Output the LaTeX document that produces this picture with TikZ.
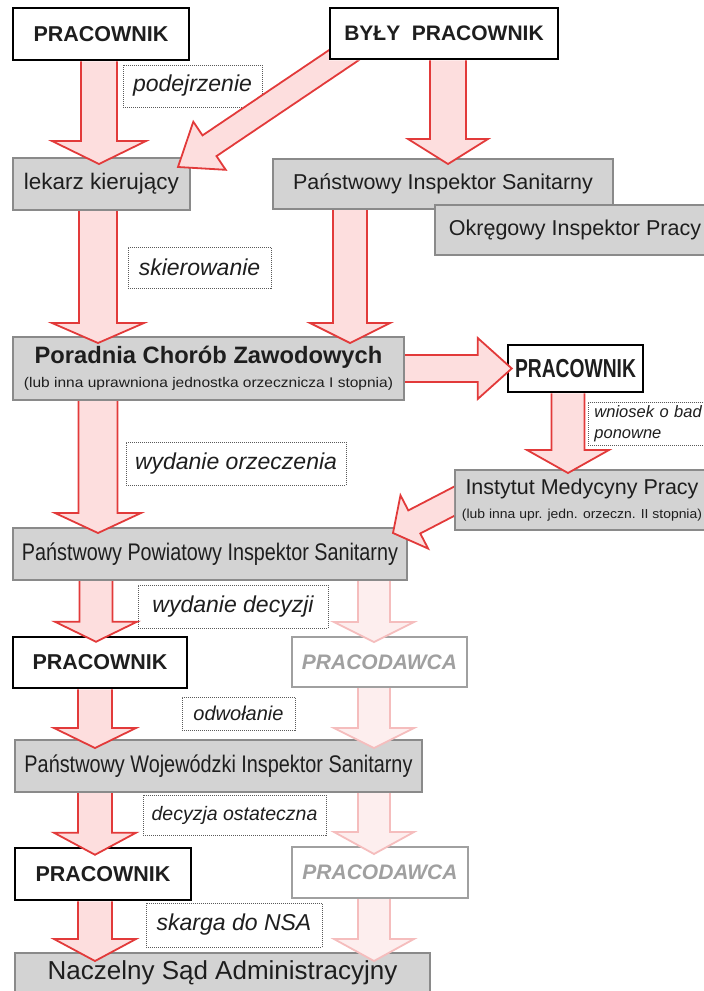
\documentclass[tikz,border=0pt]{standalone}
\usepackage{fontspec}
\setmainfont{Liberation Sans}
\usepackage{graphicx}
\usetikzlibrary{calc}
\definecolor{boxgray}{HTML}{D3D3D3}
\definecolor{boxline}{HTML}{8A8A8A}
\definecolor{arrline}{HTML}{E23A3A}
\definecolor{arrbody}{HTML}{FDDEDE}
\definecolor{ltline}{HTML}{F5BDBD}
\definecolor{ltbody}{HTML}{FDEEEE}
\definecolor{txt}{HTML}{1E1E1E}
\definecolor{pdgray}{HTML}{A0A0A0}
\definecolor{lblline}{HTML}{5A5A5A}

\newcommand\fitw[2]{\resizebox{#1}{\height}{#2}}
\newcommand\fsz[1]{\fontsize{#1}{#1}\selectfont}

\tikzset{
  whitebox/.style={draw=black, line width=2.5pt, fill=white, rectangle, inner sep=0pt, text=txt, font=\bfseries\fsz{21.5}},
  graybox/.style={draw=boxline, line width=2pt, fill=boxgray, rectangle, inner sep=0pt, text=txt, font=\fsz{21.5}},
  pdbox/.style={draw=pdgray, line width=2pt, fill=white, rectangle, inner sep=0pt, text=pdgray, font=\bfseries\itshape\fsz{21}},
  lbl/.style={draw=lblline, line width=0.9pt, dash pattern=on 1pt off 1pt, fill=white, rectangle, inner sep=0pt, text=txt, font=\itshape\fsz{23}},
  redfill/.style={fill=arrbody},
  redline/.style={draw=arrline, line width=1.8pt, line join=miter},
  ltfill/.style={fill=ltbody},
  ltline/.style={draw=ltline, line width=1.8pt, line join=miter},
  numlbl/.style={inner sep=0pt, text=txt, font=\bfseries\fsz{17}},
}

% block arrow: [kind]{start}{tip}{shaft half width}{head half width}{head length}
\newcommand\blockarrow[6][red]{%
  \coordinate (ba) at #2;
  \coordinate (bb) at #3;
  \coordinate (bh) at ($(bb)!#6!(ba)$);
  \coordinate (bs1) at ($(ba)!#4!90:(bb)$);
  \coordinate (bs2) at ($(bh)!#4!90:(bb)$);
  \coordinate (bh1) at ($(bh)!#5!90:(bb)$);
  \coordinate (bh2) at ($(bh)!#5!-90:(bb)$);
  \coordinate (bs3) at ($(bh)!#4!-90:(bb)$);
  \coordinate (bs4) at ($(ba)!#4!-90:(bb)$);
  \fill[#1fill] (bs1) -- (bs2) -- (bh1) -- (bb) -- (bh2) -- (bs3) -- (bs4) -- cycle;
  \draw[#1line] (bs1) -- (bs2) -- (bh1) -- (bb) -- (bh2) -- (bs3) -- (bs4);
}

\begin{document}
\begin{tikzpicture}[x=1pt,y=-1pt]
\useasboundingbox (0,0) rectangle (704,991);

% boxes
\node[whitebox, minimum width=176pt, minimum height=52pt] (p1) at (101,34) {PRACOWNIK};
\node[whitebox, minimum width=228pt, minimum height=51pt, font=\bfseries\fsz{21}] (byly) at (444,33.5) {BYŁY\hspace{0.55em}PRACOWNIK};
\node[graybox, minimum width=177pt, minimum height=52pt, font=\fsz{22.5}] (lek) at (101.5,184) {lekarz kierujący};
\node[graybox, minimum width=340pt, minimum height=50pt] (pis) at (443,184) {Państwowy Inspektor Sanitarny};
\node[graybox, minimum width=280pt, minimum height=50pt] (oip) at (575,230) {Okręgowy Inspektor Pracy};
\node[graybox, minimum width=391pt, minimum height=63pt, align=center] (por) at (208.5,368.5)
  {{\bfseries\fsz{23.7}Poradnia Chorób Zawodowych}\\[3pt]{\fsz{14}\fitw{369pt}{(lub inna uprawniona jednostka orzecznicza I stopnia)}}};
\node[whitebox, minimum width=135pt, minimum height=47pt, font=\bfseries\fsz{26}] (p2) at (575.5,368.5) {\fitw{121pt}{PRACOWNIK}};
\node[lbl, anchor=west, minimum height=43pt, text width=126pt, inner xsep=6pt, align=left, font=\itshape\fsz{16.5}] (wn) at (588,423.5) {wniosek o bad\\[4pt]ponowne};
\node[graybox, minimum width=254pt, minimum height=60pt, align=center] (inst) at (582,500)
  {Instytut Medycyny Pracy\\[2pt]{\fsz{13}\fitw{240pt}{(lub inna upr. jedn. orzeczn. II stopnia)}}};
\node[graybox, minimum width=394pt, minimum height=52pt, font=\fsz{24}] (ppis) at (210,554) {\fitw{376pt}{Państwowy Powiatowy Inspektor Sanitarny}};
\node[whitebox, minimum width=174pt, minimum height=51pt] (p3) at (100,662.5) {PRACOWNIK};
\node[pdbox, minimum width=175pt, minimum height=50pt] (pd1) at (379.5,662) {PRACODAWCA};
\node[graybox, minimum width=407pt, minimum height=52pt, font=\fsz{24}] (pwis) at (218.5,766) {\fitw{388pt}{Państwowy Wojewódzki Inspektor Sanitarny}};
\node[whitebox, minimum width=176pt, minimum height=52pt] (p4) at (103,874) {PRACOWNIK};
\node[pdbox, minimum width=176pt, minimum height=51pt] (pd2) at (380,872.5) {PRACODAWCA};
\node[graybox, minimum width=415pt, minimum height=39pt, font=\fsz{26}] (nsa) at (222.5,972.5) {Naczelny Sąd Administracyjny};

% labels
\node[lbl, minimum width=139pt, minimum height=42pt] (l1) at (192.5,86) {podejrzenie};
\node[lbl, minimum width=143pt, minimum height=41pt] (l2) at (199.5,267.5) {skierowanie};
\node[lbl, minimum width=220pt, minimum height=43pt] (l3) at (236,463.5) {wydanie orzeczenia};
\node[lbl, minimum width=190pt, minimum height=43pt] (l5) at (233,606.5) {wydanie decyzji};
\node[lbl, minimum width=113pt, minimum height=33pt, font=\itshape\fsz{20}] (l6) at (238.5,713.5) {odwołanie};
\node[lbl, minimum width=183pt, minimum height=40pt, font=\itshape\fsz{19.5}] (l7) at (234.5,815) {decyzja ostateczna};
\node[lbl, minimum width=176pt, minimum height=44pt] (l8) at (234,925) {skarga do NSA};
\node[numlbl] (n1) at (286,95) {1)};
\node[numlbl] (n2) at (449,127) {2)};

% arrows
\blockarrow{($(p1.south)+(-2,0)$)}{($(lek.north)+(-2.5,7)$)}{18pt}{47pt}{23pt}
\begin{scope}
  \clip (0,0) rectangle (byly.south west) (byly.south west -| 0,0) rectangle (704,991);
  \blockarrow{($(byly.center)+(-88,13.5)$)}{($(lek.north)+(76.5,10)$)}{12.5pt}{29pt}{38pt}
\end{scope}
\blockarrow{($(byly.south)+(4,0)$)}{($(pis.north)+(5,6)$)}{18pt}{40pt}{25pt}
\blockarrow{($(lek.south)+(-3.5,0)$)}{($(por.north)+(-110.5,7)$)}{19pt}{46pt}{20pt}
\blockarrow{($(pis.south)+(-93,0)$)}{($(por.north)+(141.5,7)$)}{17pt}{40pt}{20pt}
\blockarrow{(por.east)}{($(p2.west)+(5,0)$)}{13.5pt}{30.5pt}{34pt}
\blockarrow{($(p2.south)+(-7.5,0)$)}{($(inst.north)+(-14,4)$)}{16.5pt}{41pt}{23pt}
\begin{scope}
  \clip (0,0) rectangle ($(inst.south west)+(0,60)$);
  \blockarrow{($(inst.west)+(18,-8)$)}{($(ppis.north east)+(-15,6)$)}{13pt}{30pt}{24pt}
\end{scope}
\blockarrow{($(por.south)+(-110.5,0)$)}{($(ppis.north)+(-112,6)$)}{19.5pt}{43pt}{20pt}
\blockarrow{($(ppis.south)+(-114,0)$)}{($(p3.north)+(-4,6)$)}{16.5pt}{41pt}{20pt}
\blockarrow[lt]{($(ppis.south)+(164,0)$)}{($(pd1.north)+(-5.5,6)$)}{16pt}{40pt}{20pt}
\blockarrow{($(p3.south)+(-5,0)$)}{($(pwis.north)+(-123.5,9)$)}{17pt}{41pt}{20pt}
\blockarrow[lt]{($(pd1.south)+(-5.5,0)$)}{($(pwis.north)+(155.5,9)$)}{16pt}{40pt}{20pt}
\blockarrow{($(pwis.south)+(-123.5,0)$)}{($(p4.north)+(-8,8)$)}{17pt}{41pt}{22pt}
\blockarrow[lt]{($(pwis.south)+(155.5,0)$)}{($(pd2.north)+(-6,8)$)}{16pt}{40pt}{22pt}
\blockarrow{($(p4.south)+(-8,0)$)}{($(nsa.north)+(-127.5,9)$)}{17pt}{41pt}{22pt}
\blockarrow[lt]{($(pd2.south)+(-6,0)$)}{($(nsa.north)+(151.5,9)$)}{16pt}{40pt}{22pt}
\end{tikzpicture}
\end{document}
